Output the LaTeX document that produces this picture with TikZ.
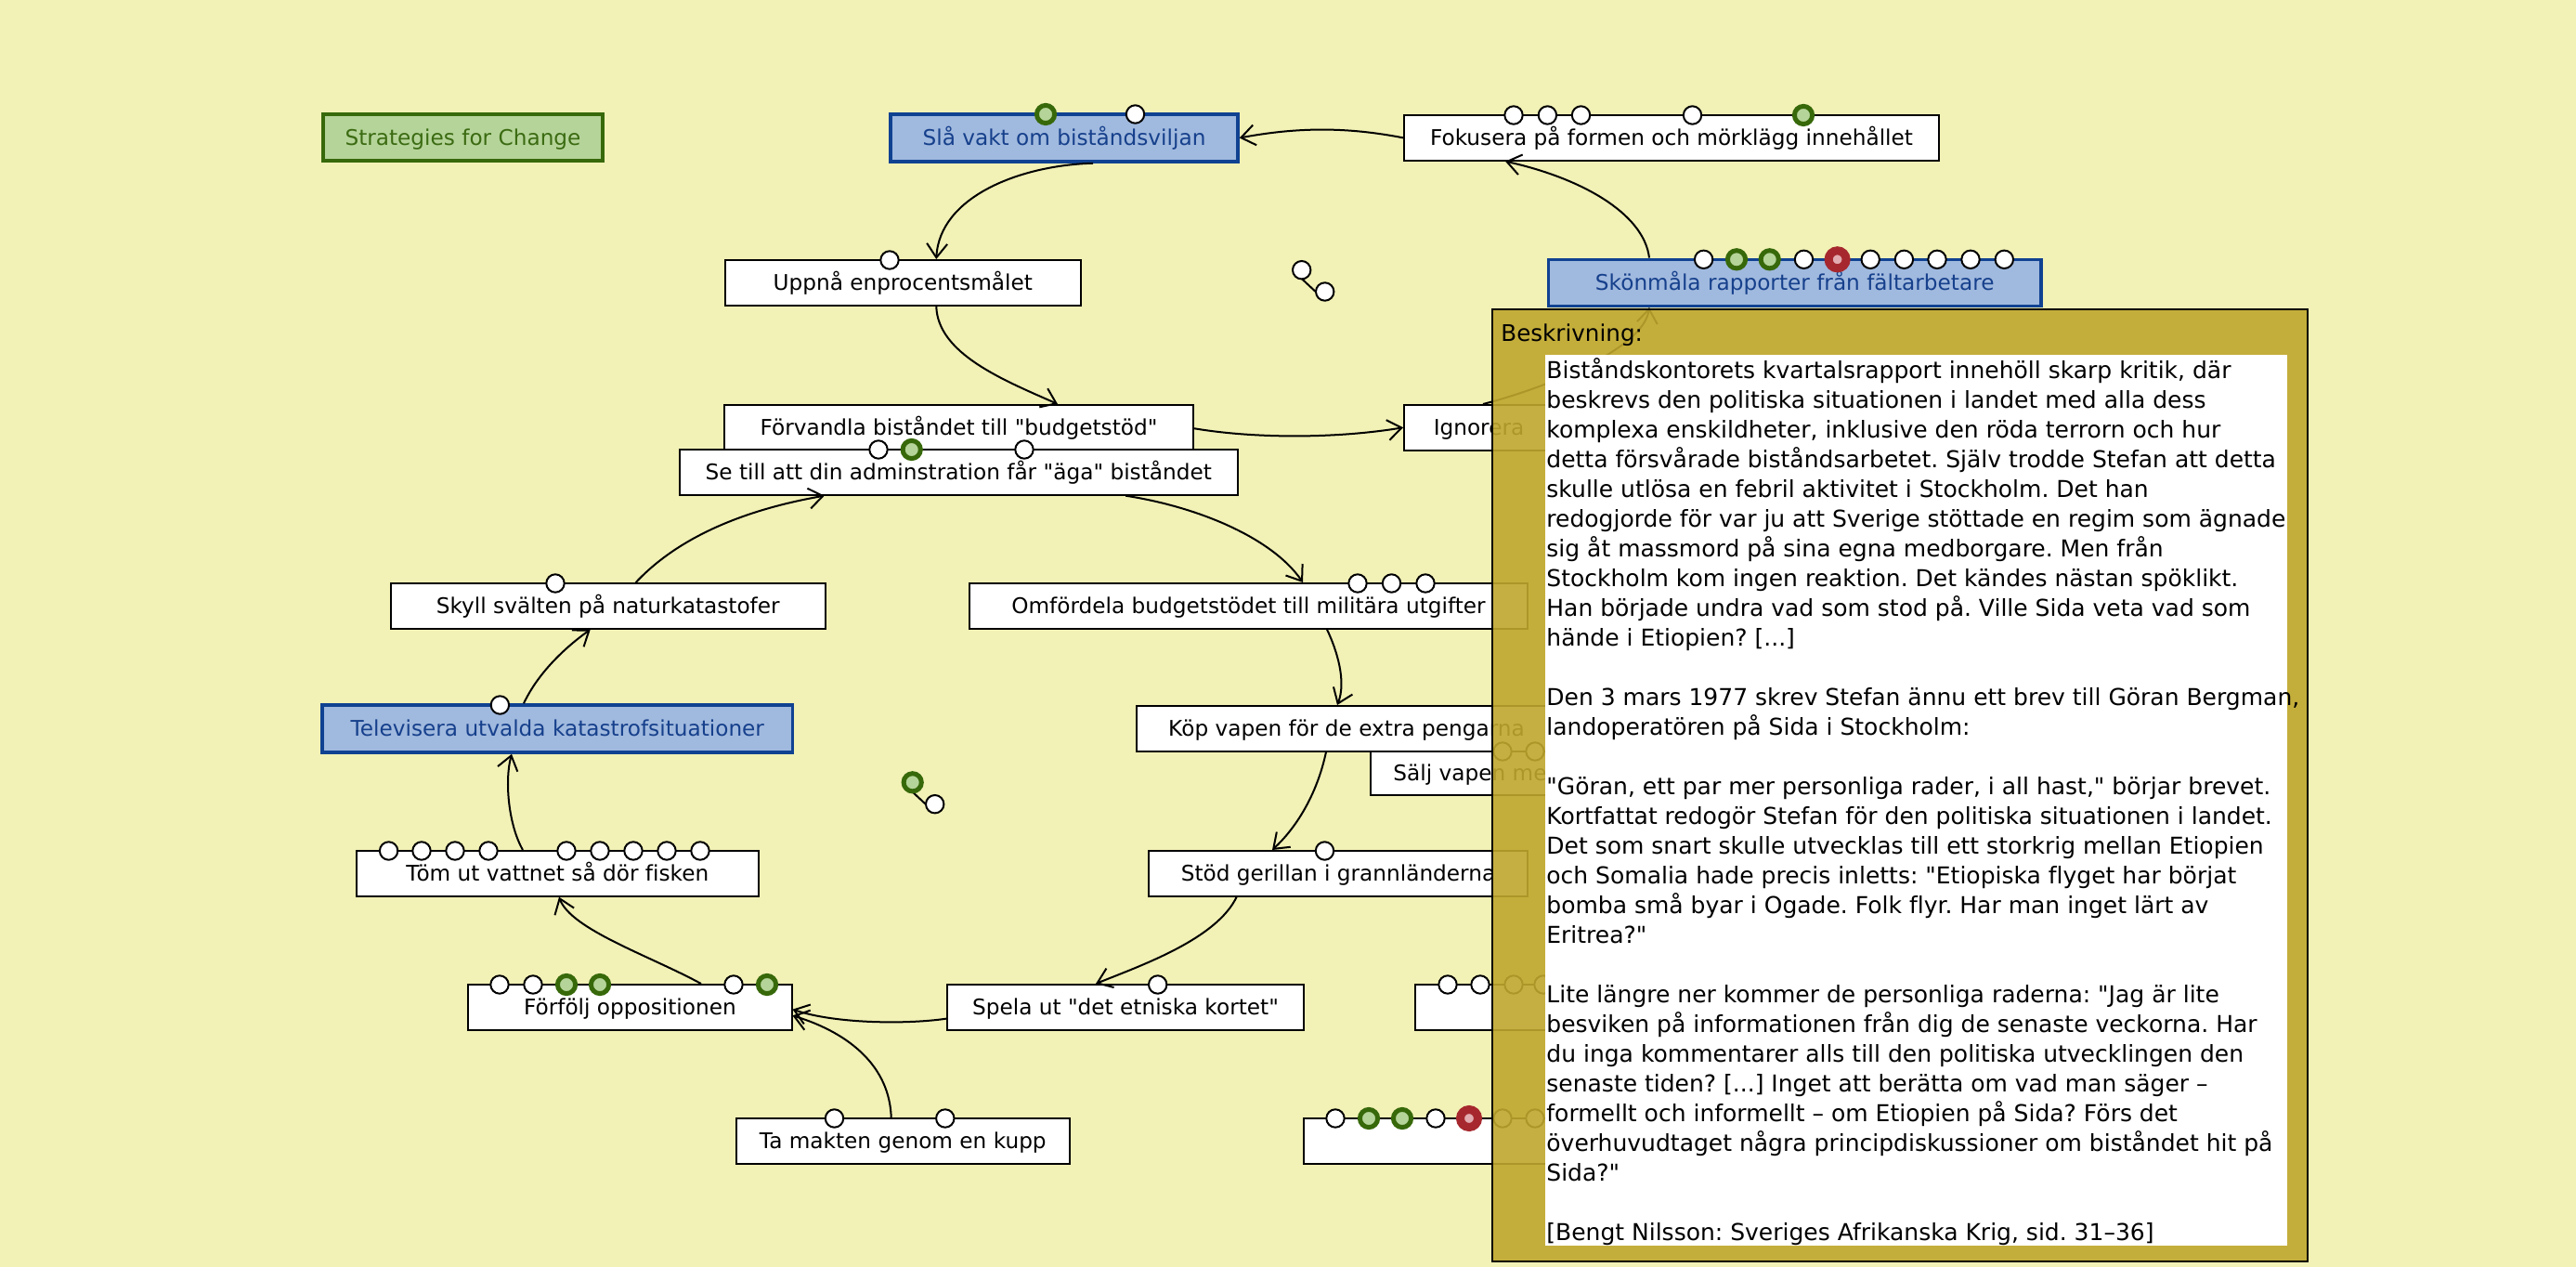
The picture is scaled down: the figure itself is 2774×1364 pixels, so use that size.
\documentclass[tikz,border=0pt]{standalone}
\usepackage{fontspec}
\setmainfont[Ligatures={TeXOff,CommonOff}]{DejaVu Sans}
\usetikzlibrary{arrows.meta,fit,calc}
\definecolor{bg}{RGB}{242,241,182}
\definecolor{tanc}{RGB}{191,167,46}
\definecolor{bluefill}{RGB}{160,185,222}
\definecolor{blueline}{RGB}{16,66,146}
\definecolor{bluetext}{RGB}{22,64,140}
\definecolor{greenfill}{RGB}{181,212,153}
\definecolor{greenline}{RGB}{55,105,10}
\definecolor{greentext}{RGB}{59,107,18}
\definecolor{redring}{RGB}{166,40,46}
\definecolor{pinkfill}{RGB}{226,172,176}
\tikzset{
  box/.style={draw=black, line width=1pt, fill=white, inner sep=0pt},
  bluebox/.style={box, fill=bluefill, draw=blueline, line width=1.75pt},
  greenbox/.style={box, fill=greenfill, draw=greenline, line width=2pt},
  boxlab/.style={inner sep=0pt, text height=8.46pt, text depth=0pt, font=\fontsize{11.6}{14}\selectfont},
  bluelab/.style={boxlab, text=bluetext},
  greenlab/.style={boxlab, text=greentext},
  wdot/.style={circle, draw=black, fill=white, line width=1pt, inner sep=0pt, minimum size=9.7pt},
  gdot/.style={circle, draw=greenline, fill=greenfill, line width=2.5pt, inner sep=0pt, minimum size=9.6pt},
  rdot/.style={circle, draw=redring, fill=pinkfill, line width=4.5pt, inner sep=0pt, minimum size=9.5pt},
  arr/.style={line width=1pt, -{Straight Barb[length=7.5pt,width=11pt,line width=1pt]}},
}
\begin{document}
\frenchspacing
\begin{tikzpicture}[x=0.5pt,y=-0.5pt]
\fill[bg] (0,0) rectangle (2774,1364);
\useasboundingbox (0,0) rectangle (2774,1364);

% boxes
\node[greenbox, fit={(348,123) (649,173)}, label={[greenlab]center:Strategies for Change}] (strat) {};
\node[bluebox, fit={(959,123) (1333,174)}, label={[bluelab]center:Slå vakt om biståndsviljan}] (sla) {};
\node[box, fit={(1512,124) (2088,172.7)}, label={[boxlab]center:Fokusera på formen och mörklägg innehållet}] (fok) {};
\node[box, fit={(780.5,280) (1164,328.7)}, label={[boxlab]center:Uppnå enprocentsmålet}] (upp) {};
\node[bluebox, fit={(1667.5,279.3) (2198,329.3)}, label={[bluelab]center:Skönmåla rapporter från fältarbetare}] (skon) {};
\node[box, fit={(780,436) (1285,484.5)}, label={[boxlab]center:Förvandla biståndet till "budgetstöd"}] (forv) {};
\node[box, fit={(732,484) (1332.5,532.7)}, label={[boxlab]center:Se till att din adminstration får "äga" biståndet}] (setill) {};
\node[box, fit={(1512,436) (1673,484.5)}, label={[boxlab]center:Ignorera}] (ign) {};
\node[box, fit={(420.5,628) (889,676.7)}, label={[boxlab]center:Skyll svälten på naturkatastofer}] (sky) {};
\node[box, fit={(1044,628) (1645,676.7)}, label={[boxlab]center:Omfördela budgetstödet till militära utgifter}] (omf) {};
\node[bluebox, fit={(347,759) (853.6,810)}, label={[bluelab]center:Televisera utvalda katastrofsituationer}] (tel) {};
\node[box, fit={(1224,760) (1676,808.5)}, label={[boxlab]center:Köp vapen för de extra pengarna}] (kop) {};
\node[box, fit={(1476,809) (1690,856)}, label={[boxlab]center:Sälj vapen me}] (salj) {};
\node[box, fit={(384,916) (816.6,964.7)}, label={[boxlab]center:Töm ut vattnet så dör fisken}] (tom) {};
\node[box, fit={(1237,916) (1645,964.7)}, label={[boxlab]center:Stöd gerillan i grannländerna}] (stod) {};
\node[box, fit={(504.3,1060) (852.5,1108.7)}, label={[boxlab]center:Förfölj oppositionen}] (forf) {};
\node[box, fit={(1020,1060) (1404,1108.7)}, label={[boxlab]center:Spela ut "det etniska kortet"}] (spela) {};
\node[box, fit={(1524,1060) (1700,1108.5)}] (boxa) {};
\node[box, fit={(1404,1204) (1700,1252.5)}] (boxb) {};
\node[box, fit={(792.8,1204) (1151.8,1252.5)}, label={[boxlab]center:Ta makten genom en kupp}] (ta) {};

% connectors
\draw[arr] (fok.west) .. controls +(-62,-12) and +(62,-11.5) .. (sla.east);
\draw[arr] ($(sla.south)+(31,0)$) .. controls +(-77,2) and +(3.5,-68) .. ($(upp.north)+(36,0)$);
\draw[arr] ($(upp.south)+(36,0)$) .. controls +(1.5,51) and +(-59,-26) .. ($(forv.north)+(106.5,0)$);
\draw[arr] ($(forv.east)+(0,1)$) .. controls +(65,11) and +(-72,12) .. (ign.west);
\draw[arr] ($(setill.south)+(180,0)$) .. controls +(78,12) and +(-33,-48) .. ($(omf.north)+(58.5,0)$);
\draw[arr] ($(omf.south)+(84.5,0)$) .. controls +(11,23) and +(10,-25) .. ($(kop.north)+(-10,0)$);
\draw[arr] ($(kop.south)+(-22,0)$) .. controls +(-10,47) and +(25,-23) .. ($(stod.north)+(-71,0)$);
\draw[arr] ($(stod.south)+(-109.4,0)$) .. controls +(-21.6,45) and +(50,-20) .. ($(spela.north)+(-32,0)$);
\draw[arr] ($(spela.west)+(0,12.3)$) .. controls +(-40,6) and +(47.5,16) .. ($(forf.east)+(0,2.3)$);
\draw[arr] ($(ta.north)+(-12.6,0)$) .. controls +(-1.7,-54) and +(62.5,19) .. ($(forf.east)+(0,9)$);
\draw[arr] ($(forf.north)+(76.6,0)$) .. controls +(-55,-30) and +(13,35) .. ($(tom.south)+(1.7,0)$);
\draw[arr] ($(tom.north)+(-37.3,0)$) .. controls +(-15,-26) and +(-8,30) .. ($(tel.south)+(-49.3,0)$);
\draw[arr] ($(tel.north)+(-36.3,0)$) .. controls +(16,-34) and +(-25.7,18.3) .. ($(sky.south)+(-19,0)$);
\draw[arr] ($(sky.north)+(30,0)$) .. controls +(45,-48) and +(-87.8,15.3) .. ($(setill.south)+(-144.5,0)$);
\draw[arr] ($(skon.north)+(-156.75,0)$) .. controls +(-6,-49) and +(79,17.3) .. ($(fok.south)+(-179,0)$);
\draw[arr] ($(ign.north)+(4.5,0)$) .. controls +(63,-16) and +(-6,45.7) .. ($(skon.south)+(-156.75,0)$);

% small pairs
\coordinate (pa1) at (1401.7,290.7);
\coordinate (pa2) at (1426.7,314);
\draw[line width=1pt] ($(pa1)+(-10,0)$) -- ($(pa2)+(-10,0)$);
\node[wdot] (pa1n) at (pa1) {};
\node[wdot] (pa2n) at (pa2) {};
\coordinate (pb1) at (982.7,842.3);
\coordinate (pb2) at (1006.7,865.7);
\draw[line width=1pt] ($(pb1)+(-11,0)$) -- ($(pb2)+(-10,0)$);
\node[gdot] (pb1n) at (pb1) {};
\node[wdot] (pb2n) at (pb2) {};

% dots on boxes
\node[gdot] (slag) at (1126,123) {};
\node[wdot] (slaw) at (1222.5,123) {};
\foreach \x [count=\i] in {1630,1666.4,1702.5,1822.5} \node[wdot] (fokw\i) at (\x,124) {};
\node[gdot] (fokg) at (1942,124) {};
\node[wdot] (uppw) at (958,280) {};
\foreach \x [count=\i] in {1834.6,1942.5,2014.2,2050.4,2086,2122,2158.3} \node[wdot] (skonw\i) at (\x,279.3) {};
\foreach \x [count=\i] in {1870,1905.7} \node[gdot] (skong\i) at (\x,279.3) {};
\node[rdot] (skonr) at (1978.6,279.3) {};
\node[wdot] (setw1) at (946,484) {};
\node[gdot] (setg) at (981.7,484) {};
\node[wdot] (setw2) at (1103,484) {};
\node[wdot] (skyw) at (598,628) {};
\foreach \x [count=\i] in {1462,1498.5,1535} \node[wdot] (omfw\i) at (\x,628) {};
\node[wdot] (telw) at (538.4,759) {};
\foreach \x [count=\i] in {1618,1653} \node[wdot] (saljw\i) at (\x,809) {};
\node[wdot] (stodw) at (1426.5,916) {};
\foreach \x [count=\i] in {418.6,454,490,526,610,646,682,718,754} \node[wdot] (tomw\i) at (\x,916) {};
\foreach \x [count=\i] in {538,574,790} \node[wdot] (forfw\i) at (\x,1060) {};
\foreach \x [count=\i] in {610,646,826} \node[gdot] (forfg\i) at (\x,1060) {};
\node[wdot] (spelaw) at (1246.7,1060) {};
\foreach \x [count=\i] in {898.5,1017.8} \node[wdot] (taw\i) at (\x,1204) {};
\foreach \x [count=\i] in {1559,1594,1630,1662} \node[wdot] (boxaw\i) at (\x,1060) {};
\foreach \x [count=\i] in {1438,1546,1618,1653} \node[wdot] (boxbw\i) at (\x,1204) {};
\foreach \x [count=\i] in {1474,1510} \node[gdot] (boxbg\i) at (\x,1204) {};
\node[rdot] (boxbr) at (1582,1204) {};

% description panel
\node[fit={(1607,333) (2485,1358)}, inner sep=0pt, fill=tanc, fill opacity=0.9, draw=black, line width=1pt] (panel) {};
\node[fit={(1664,382) (2463,1341)}, inner sep=0pt, fill=white] (panelbody) {};
\node[anchor=base west, inner sep=0pt, font=\fontsize{12.3}{16}\selectfont] (beskr) at (1616,367) {Beskrivning:};
\node[anchor=base west, inner sep=0pt, font=\fontsize{12.5}{16}\selectfont] (desc) at (1665,407.5) {\parbox[t]{460pt}{\raggedright\frenchspacing
Biståndskontorets kvartalsrapport innehöll skarp kritik, där\\
beskrevs den politiska situationen i landet med alla dess\\
komplexa enskildheter, inklusive den röda terrorn och hur\\
detta försvårade biståndsarbetet. Själv trodde Stefan att detta\\
skulle utlösa en febril aktivitet i Stockholm. Det han\\
redogjorde för var ju att Sverige stöttade en regim som ägnade\\
sig åt massmord på sina egna medborgare. Men från\\
Stockholm kom ingen reaktion. Det kändes nästan spöklikt.\\
Han började undra vad som stod på. Ville Sida veta vad som\\
hände i Etiopien? [...]\\[16pt]
Den 3 mars 1977 skrev Stefan ännu ett brev till Göran Bergman,\\
landoperatören på Sida i Stockholm:\\[16pt]
"Göran, ett par mer personliga rader, i all hast," börjar brevet.\\
Kortfattat redogör Stefan för den politiska situationen i landet.\\
Det som snart skulle utvecklas till ett storkrig mellan Etiopien\\
och Somalia hade precis inletts: "Etiopiska flyget har börjat\\
bomba små byar i Ogade. Folk flyr. Har man inget lärt av\\
Eritrea?"\\[16pt]
Lite längre ner kommer de personliga raderna: "Jag är lite\\
besviken på informationen från dig de senaste veckorna. Har\\
du inga kommentarer alls till den politiska utvecklingen den\\
senaste tiden? [...] Inget att berätta om vad man säger –\\
formellt och informellt – om Etiopien på Sida? Förs det\\
överhuvudtaget några principdiskussioner om biståndet hit på\\
Sida?"\\[16pt]
[Bengt Nilsson: Sveriges Afrikanska Krig, sid. 31–36]}};
\end{tikzpicture}
\end{document}
